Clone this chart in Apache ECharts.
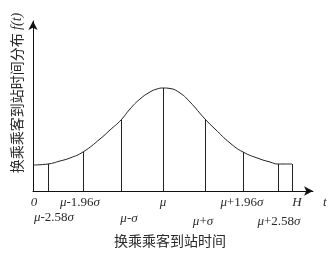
<!DOCTYPE html>
<html><head><meta charset="utf-8">
<script src="https://cdn.jsdelivr.net/npm/echarts@6/dist/echarts.min.js"></script>
<style>html,body{margin:0;padding:0;background:#fff}#c{width:330px;height:253px}</style>
</head><body><div id="c"></div>
<script>
// curve, x in axis units, y in density units
const curveX = [0, 1.5, 2.7, 3.7, 5.0, 6.7, 7.7, 8.8, 9.7, 10.7, 11.7, 12.4, 13.0, 13.7, 14.7, 15.7, 17.2, 18.2, 19.7, 21.0, 22.7, 23.7, 24.5, 25.9];
const curveY = [2.6, 2.7, 3.0, 3.3, 3.9, 5.2, 6.1, 7.1, 8.2, 9.2, 9.9, 10.2, 10.3, 10.25, 9.8, 8.9, 7.2, 6.2, 4.8, 3.9, 3.2, 2.9, 2.7, 2.7];
// vertical lines
const lineX = [1.5, 5.0, 8.8, 13.0, 17.2, 21.0, 24.5, 25.9];
const lineTop = [2.7, 3.9, 7.1, 10.3, 7.2, 3.9, 2.7, 2.7];
// tick labels
const upperLabelPos = [0.1, 4.7, 13.0, 20.9, 26.4];
const upperLabels = ['0', 'μ-1.96σ', 'μ', 'μ+1.96σ', 'H'];
const lowerLabelPos = [2.1, 9.6, 17.0, 24.6];
const lowerLabels = ['μ-2.58σ', 'μ-σ', 'μ+σ', 'μ+2.58σ'];
const xTitle = '换乘乘客到站时间';
const yTitle = '换乘乘客到站时间分布';
const yFunc = 'f(t)';
const xVar = 't';

const SERIF = '"Liberation Serif","DejaVu Serif",serif';
const CJK = '"Noto Sans CJK SC",sans-serif';
const TXT = '#2a2a2a';
const lowerMargins = [20, 21, 24, 24];

function toRich(s) {
  if (s === '0') return '{i|0}';
  let out = '';
  for (const ch of s) {
    out += /[0-9.+\-]/.test(ch) ? '{n|' + ch + '}' : '{i|' + ch + '}';
  }
  return out;
}
const rich = {
  i: { fontFamily: SERIF, fontStyle: 'italic', fontSize: 13, color: TXT },
  n: { fontFamily: SERIF, fontSize: 13, color: TXT }
};
function lookup(pos, labels, v) {
  for (let k = 0; k < pos.length; k++) if (Math.abs(pos[k] - v) < 1e-6) return toRich(labels[k]);
  return '';
}

const axisLine = { show: true, symbol: ['none', 'arrow'], symbolSize: [7, 9], lineStyle: { color: '#111', width: 1 } };
const xAxes = [{
  type: 'value', min: 0, max: 28, position: 'bottom',
  axisLine: axisLine, axisTick: { show: false }, splitLine: { show: false },
  axisLabel: { customValues: upperLabelPos, margin: 5, formatter: v => lookup(upperLabelPos, upperLabels, v), rich: rich },
  name: xVar, nameLocation: 'end', nameGap: 10,
  nameTextStyle: { fontFamily: SERIF, fontStyle: 'italic', fontSize: 13, color: TXT, verticalAlign: 'top', padding: [5, 0, 0, 0] }
}];
lowerLabelPos.forEach((p, k) => {
  xAxes.push({
    type: 'value', min: 0, max: 28, position: 'bottom',
    axisLine: { show: false }, axisTick: { show: false }, splitLine: { show: false },
    axisLabel: { customValues: [p], margin: lowerMargins[k], formatter: v => lookup(lowerLabelPos, lowerLabels, v), rich: rich }
  });
});

const chart = echarts.init(document.getElementById('c'), null, { renderer: 'canvas' });
chart.setOption({
  animation: false,
  backgroundColor: '#fff',
  grid: { left: 33, right: 17, top: 21, bottom: 62 },
  xAxis: xAxes,
  yAxis: {
    type: 'value', min: 0, max: 17,
    axisLine: axisLine, axisTick: { show: false }, splitLine: { show: false }, axisLabel: { show: false }
  },
  graphic: [
    {
      type: 'text', x: 170, y: 241,
      style: { text: xTitle, font: '14px ' + CJK, fill: TXT, align: 'center', verticalAlign: 'middle' }
    },
    {
      type: 'text', x: 17, y: 93, rotation: Math.PI / 2,
      style: {
        text: '{c|' + yTitle + '} {f|' + yFunc + '}',
        align: 'center', verticalAlign: 'middle',
        rich: {
          c: { fontFamily: CJK, fontSize: 14, fill: TXT },
          f: { fontFamily: SERIF, fontStyle: 'italic', fontSize: 14, fill: TXT }
        }
      }
    }
  ],
  series: [{
    type: 'line', smooth: 0.5, symbol: 'none',
    data: curveX.map((x, i) => [x, curveY[i]]),
    lineStyle: { color: '#222', width: 1 },
    markLine: {
      silent: true, symbol: ['none', 'none'], label: { show: false },
      lineStyle: { color: '#222', width: 1, type: 'solid' },
      data: lineX.map((x, i) => [{ coord: [x, 0] }, { coord: [x, lineTop[i]] }])
    }
  }]
});
</script></body></html>
